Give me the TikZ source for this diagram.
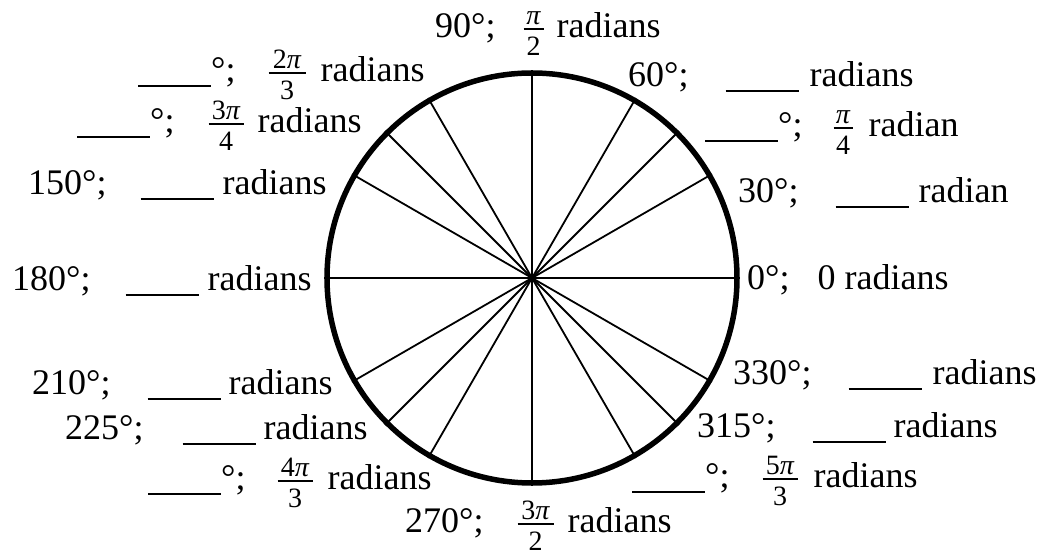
\documentclass[tikz,border=0pt]{standalone}
\usepackage{fontspec}
\setmainfont{Liberation Serif}
\usepackage{tikz}
\newcommand{\blank}{\rule[-5pt]{73pt}{2pt}}
\newcommand{\frf}{\fontsize{28}{30}\selectfont}
% fraction: numerator, bar and denominator stacked by hand
\newcommand{\fr}[3][35pt]{%
  \makebox[#1][l]{%
    \rlap{\raisebox{13pt}{\makebox[#1]{\frf #2}}}%
    \rlap{\rule[8pt]{#1}{1.5pt}}%
    \raisebox{-18pt}{\makebox[#1]{\frf #3}}}}
\tikzset{
  rim/.style  ={draw, circle, line width=5.5pt, minimum size=410pt, inner sep=0pt},
  spoke/.style={line width=1.8pt},
  lbl/.style  ={anchor=base west, inner sep=0pt, font=\fontsize{36}{40}\selectfont},
}

\begin{document}
\begin{tikzpicture}[x=1pt, y=1pt]
  \useasboundingbox (0,0) rectangle (1041,556);
  \node[rim] (C) at (532,278) {};
  \foreach \a in {0,30,45,60,90,120,135,150,180,210,225,240,270,300,315,330}
    \draw[spoke] (C.center) -- (C.\a);
  % upper half
  \node[lbl] (d90)  at (435,518) {90°;\hspace{28pt}\fr[20pt]{\textit{π}}{2}\hspace{13pt}radians};
  \node[lbl] (d120) at (138,474) {\blank{}°;\hspace{33pt}\fr[37pt]{2\textit{π}}{3}\hspace{15pt}radians};
  \node[lbl] (d135) at (77,423)  {\blank{}°;\hspace{34pt}\fr{3\textit{π}}{4}\hspace{14pt}radians};
  \node[lbl] (d150) at (28,361)  {150°;\hspace{34pt}\blank\hspace{9pt}radians};
  \node[lbl] (d60)  at (628,469) {60°;\hspace{37pt}\blank\hspace{11pt}radians};
  \node[lbl] (d45)  at (705,419) {\blank{}°;\hspace{31pt}\fr[19pt]{\textit{π}}{4}\hspace{16pt}radian};
  \node[lbl] (d30)  at (738,353) {30°;\hspace{37pt}\blank\hspace{10pt}radian};
  % middle
  \node[lbl] (d180) at (12,265)  {180°;\hspace{35pt}\blank\hspace{9pt}radians};
  \node[lbl] (d0)   at (747,266) {0°;\hspace{28pt}0 radians};
  % lower half
  \node[lbl] (d210) at (32,161)  {210°;\hspace{37pt}\blank\hspace{8pt}radians};
  \node[lbl] (d225) at (65,116)  {225°;\hspace{39pt}\blank\hspace{8pt}radians};
  \node[lbl] (d240) at (148,66)  {\blank{}°;\hspace{32pt}\fr{4\textit{π}}{3}\hspace{15pt}radians};
  \node[lbl] (d270) at (405,23)  {270°;\hspace{34pt}\fr[36pt]{3\textit{π}}{2}\hspace{14pt}radians};
  \node[lbl] (d300) at (632,68)  {\blank{}°;\hspace{33pt}\fr{5\textit{π}}{3}\hspace{16pt}radians};
  \node[lbl] (d315) at (697,118) {315°;\hspace{37pt}\blank\hspace{8pt}radians};
  \node[lbl] (d330) at (733,171) {330°;\hspace{37pt}\blank\hspace{11pt}radians};
\end{tikzpicture}
\end{document}
